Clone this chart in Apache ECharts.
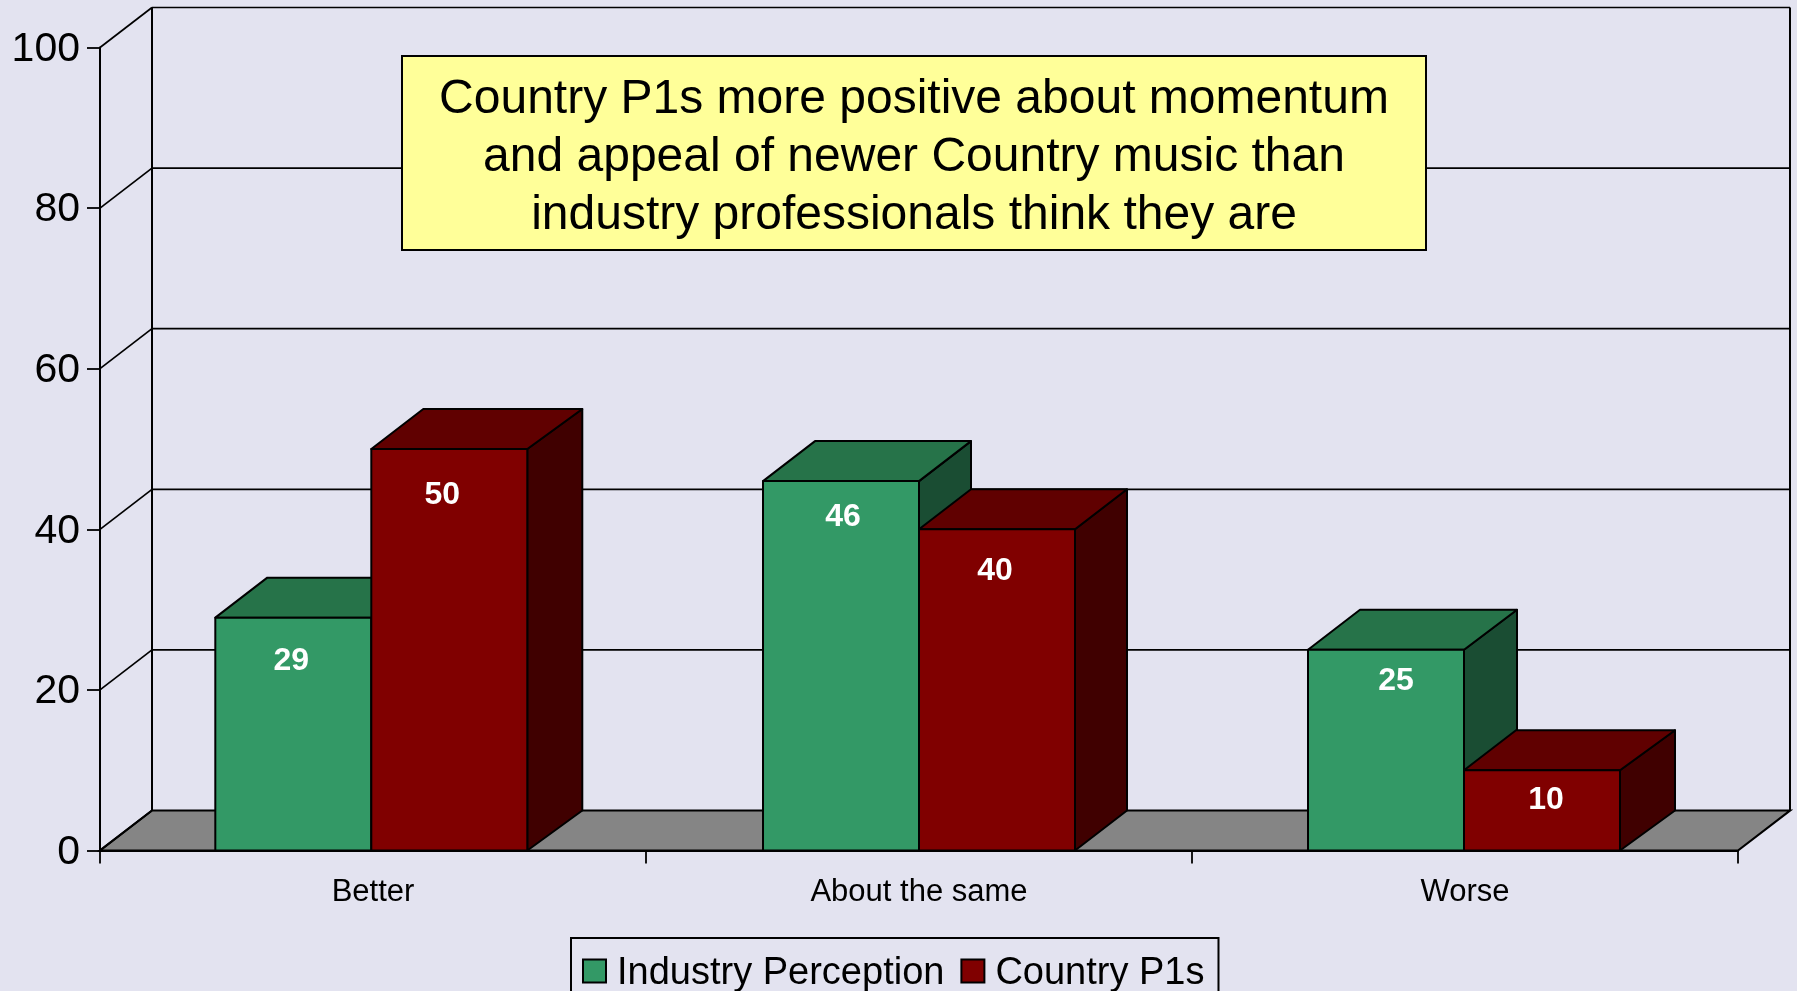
<!DOCTYPE html>
<html>
<head>
<meta charset="utf-8">
<title>Country P1s chart</title>
<style>
  html, body { margin: 0; padding: 0; background: #e3e3f0; overflow: hidden; }
  #chart { width: 1797px; height: 991px; }
</style>
<script src="https://cdn.jsdelivr.net/npm/echarts@6/dist/echarts.min.js"></script>
</head>
<body>
<div id="chart"></div>
<script>
const categories = ['Better', 'About the same', 'Worse'];
const industryValues = [29, 46, 25];
const p1Values = [50, 40, 10];
const yTicks = [0, 20, 40, 60, 80, 100];
const calloutLines = [
  'Country P1s more positive about momentum',
  'and appeal of newer Country music than',
  'industry professionals think they are'
];

// look of the fake 3d box
const DEPTH_X = 52;
const DEPTH_Y = 40;
const BAR_RATIO = 0.2857;
const FONT = '"Liberation Sans", Arial, sans-serif';
const GREEN = ['#339966', '#267349', '#1a4d33'];
const RED = ['#800000', '#600000', '#400000'];
// the original groups sit a little off the band centres
const groupShift = [-1.7, 0, -1];
// red boxes are not all equally deep in the original
const industryDepth = [52, 52, 53];
const p1Depth = [55, 52, 55];
// the labels are not centred in the original, offset from bar top centre
const industryLabelNudge = [[-2, 43.4], [2, 36.4], [10, 31.4]];
const p1LabelNudge = [[-7, 46.4], [-2, 41.4], [4, 30.4]];

function wallItem(params, api) {
  const v = api.value(0);
  const cs = params.coordSys;
  const y = api.coord([0, v])[1];
  const left = cs.x;
  const right = cs.x + cs.width;
  const line = { stroke: '#000', lineWidth: 1.7 };
  const children = [];
  if (v === 0) {
    children.push({
      type: 'polygon',
      shape: { points: [[left, y], [right, y], [right + DEPTH_X, y - DEPTH_Y], [left + DEPTH_X, y - DEPTH_Y]] },
      style: { fill: '#858585', stroke: '#000', lineWidth: 2.2 }
    });
  } else {
    children.push({
      type: 'line',
      shape: { x1: left + DEPTH_X, y1: y - DEPTH_Y, x2: right + DEPTH_X, y2: y - DEPTH_Y },
      style: line
    });
  }
  children.push({
    type: 'line',
    shape: { x1: left, y1: y, x2: left + DEPTH_X, y2: y - DEPTH_Y },
    style: line
  });
  if (v === yTicks[yTicks.length - 1]) {
    const floorY = api.coord([0, 0])[1] - DEPTH_Y;
    children.push({
      type: 'line',
      shape: { x1: left + DEPTH_X, y1: y - DEPTH_Y, x2: left + DEPTH_X, y2: floorY },
      style: { stroke: '#000', lineWidth: 2 }
    });
    children.push({
      type: 'line',
      shape: { x1: right + DEPTH_X, y1: y - DEPTH_Y, x2: right + DEPTH_X, y2: floorY },
      style: { stroke: '#000', lineWidth: 2 }
    });
  }
  return { type: 'group', children: children };
}

function boxRenderer(side, colors, nudge, depth) {
  return function (params, api) {
    const cat = api.value(0);
    const val = api.value(1);
    const top = api.coord([cat, val]);
    const base = api.coord([cat, 0]);
    const w = api.size([1, 0])[0] * BAR_RATIO;
    const x0 = (side < 0 ? top[0] - w : top[0]) + groupShift[cat];
    const x1 = x0 + w;
    const dx = depth[cat];
    const edge = { stroke: '#000', lineWidth: 2, lineJoin: 'round' };
    return {
      type: 'group',
      children: [
        {
          type: 'polygon',
          shape: { points: [[x1, base[1]], [x1 + dx, base[1] - DEPTH_Y], [x1 + dx, top[1] - DEPTH_Y], [x1, top[1]]] },
          style: Object.assign({ fill: colors[2] }, edge)
        },
        {
          type: 'polygon',
          shape: { points: [[x0, top[1]], [x1, top[1]], [x1 + dx, top[1] - DEPTH_Y], [x0 + DEPTH_X, top[1] - DEPTH_Y]] },
          style: Object.assign({ fill: colors[1] }, edge)
        },
        {
          type: 'rect',
          shape: { x: x0, y: top[1], width: w, height: base[1] - top[1] },
          style: Object.assign({ fill: colors[0] }, edge)
        },
        {
          type: 'text',
          x: (x0 + x1) / 2 + nudge[cat][0],
          y: top[1] + nudge[cat][1],
          style: {
            text: String(val),
            fill: '#fff',
            font: 'bold 32px ' + FONT,
            align: 'center',
            verticalAlign: 'middle'
          }
        }
      ]
    };
  };
}

const chart = echarts.init(document.getElementById('chart'), null, { renderer: 'canvas' });
chart.setOption({
  animation: false,
  backgroundColor: '#e3e3f0',
  textStyle: { fontFamily: FONT },
  grid: { left: 100, right: 59, top: 47.5, bottom: 140.5, containLabel: false },
  legend: {
    data: ['Industry Perception', 'Country P1s'],
    left: 571,
    top: 938,
    padding: [16.5, 14, 6, 11],
    itemWidth: 23,
    itemHeight: 23,
    itemGap: 16,
    icon: 'rect',
    borderColor: '#000',
    borderWidth: 2,
    formatter: '{t|{name}}',
    textStyle: {
      rich: {
        t: { fontSize: 38, color: '#000', fontFamily: FONT, padding: [5, 0, 0, 6] }
      }
    }
  },
  xAxis: {
    type: 'category',
    data: categories,
    axisLine: { lineStyle: { color: '#000', width: 2 } },
    axisTick: { show: true, length: 13, lineStyle: { color: '#000', width: 1.8 } },
    axisLabel: { fontSize: 31, color: '#000', margin: 26.5, fontFamily: FONT }
  },
  yAxis: {
    type: 'value',
    min: 0,
    max: 100,
    interval: 20,
    axisLine: { show: true, lineStyle: { color: '#000', width: 2 } },
    axisTick: { show: true, length: 13, lineStyle: { color: '#000', width: 1.8 } },
    axisLabel: {
      margin: 20,
      formatter: '{n|{value}}',
      rich: {
        n: { fontSize: 41, color: '#000', fontFamily: FONT, padding: [4, 0, 0, 0] }
      }
    },
    splitLine: { show: false }
  },
  series: [
    {
      type: 'custom',
      silent: true,
      z: 1,
      renderItem: wallItem,
      encode: { y: 0 },
      data: yTicks.map(function (v) { return [v]; })
    },
    {
      type: 'custom',
      name: 'Industry Perception',
      z: 2,
      renderItem: boxRenderer(-1, GREEN, industryLabelNudge, industryDepth),
      itemStyle: { color: GREEN[0], borderColor: '#000', borderWidth: 2 },
      encode: { x: 0, y: 1 },
      data: industryValues.map(function (v, i) { return [i, v]; })
    },
    {
      type: 'custom',
      name: 'Country P1s',
      z: 3,
      renderItem: boxRenderer(1, RED, p1LabelNudge, p1Depth),
      itemStyle: { color: RED[0], borderColor: '#000', borderWidth: 2 },
      encode: { x: 0, y: 1 },
      data: p1Values.map(function (v, i) { return [i, v]; })
    }
  ],
  graphic: [
    {
      type: 'rect',
      z: 100,
      shape: { x: 402, y: 56, width: 1024, height: 194 },
      style: { fill: '#ffff99', stroke: '#000', lineWidth: 2 }
    },
    {
      type: 'text',
      z: 101,
      x: 914,
      y: 158,
      style: {
        text: calloutLines.join('\n'),
        font: '48px ' + FONT,
        lineHeight: 58,
        fill: '#000',
        align: 'center',
        verticalAlign: 'middle'
      }
    }
  ]
});
</script>
</body>
</html>
